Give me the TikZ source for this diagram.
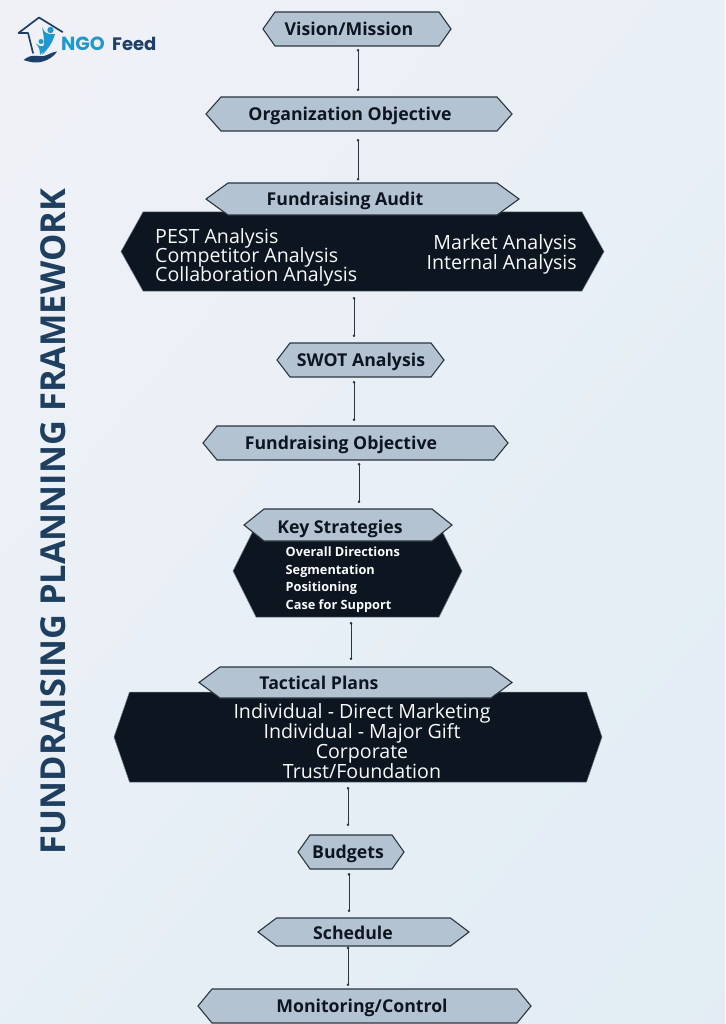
\documentclass[tikz,border=0pt]{standalone}
\usepackage{fontspec}
\setmainfont{Open Sans}
\newfontfamily\logofont{Poppins}
\usetikzlibrary{arrows.meta,calc}
\definecolor{inkdark}{HTML}{0D1521}
\definecolor{boxfill}{HTML}{B4C3D2}
\definecolor{boxedge}{HTML}{2A3540}
\definecolor{titleblue}{HTML}{1E3F5F}
\definecolor{logoteal}{HTML}{1F98CF}
\definecolor{lognavy}{HTML}{1E3F68}
\pgfdeclareverticalshading{pagewash}{100bp}{%
  rgb(0bp)=(0.875,0.918,0.953);
  rgb(40bp)=(0.898,0.933,0.961);
  rgb(68bp)=(0.933,0.945,0.969);
  rgb(100bp)=(0.965,0.953,0.973)}
\tikzset{
  x=1pt,y=-1pt,
  lightbox/.style={fill=boxfill,draw=boxedge,line width=1.1pt,line join=miter},
  darkbox/.style={fill=inkdark,draw=boxfill!60!inkdark,line width=0.5pt},
  anchorbox/.style={inner sep=0pt,outer sep=0pt,rectangle},
  headtext/.style={font=\fontsize{17.7}{20}\selectfont\bfseries,text=inkdark,anchor=center,inner sep=0pt,text height=12.6pt,text depth=0pt},
  listtext/.style={font=\fontsize{19.6}{19}\selectfont,text=white!92!boxfill,inner sep=0pt,text height=14pt,text depth=0pt},
  smalltext/.style={font=\fontsize{12.75}{12}\selectfont\bfseries,text=white!95!boxfill,anchor=west,inner sep=0pt,text height=9pt,text depth=0pt},
  link/.style={draw=boxedge,line width=0.7pt,{Circle[length=2.6pt]}-{Circle[length=2.6pt]}},
}
% A hexagon between xl and xr, yt and yb, with a named box over its extent
\newcommand{\hexa}[7]{%
  \draw[#2] (#3,{(#5+#6)/2}) -- (#3+#7,#5) -- (#4-#7,#5) -- (#4,{(#5+#6)/2})
    -- (#4-#7,#6) -- (#3+#7,#6) -- cycle;
  \node[anchorbox,minimum width=#4pt-#3pt,minimum height=#6pt-#5pt]
    (#1) at ({(#3+#4)/2},{(#5+#6)/2}) {};
}
% Vertical link leaving one box and reaching the next, at a fixed x
\newcommand{\linkbox}[5]{%
  \draw[link] (#3,0 |- #1.south) ++(0,#4) -- ($(#3,0 |- #2.north)+(0,-#5)$);
}
\begin{document}
\begin{tikzpicture}
\useasboundingbox (0,0) rectangle (725,1024);
% Page background
\begin{scope}
\clip (0,0) rectangle (725,1024);
\shade[shading=pagewash,shading angle=50] (-160,-160) rectangle (885,1184);
\end{scope}

% Logo mark
\begin{scope}
  \draw[lognavy,line width=1.7pt,line join=round,line cap=round]
    (33,53) -- (28,33) -- (18.5,33) -- (39,17.5) -- (62.5,32);
  \fill[lognavy] (23.5,60) .. controls (32,53) and (38,57) .. (44,56)
    .. controls (48,55) and (52,52) .. (57,51.5)
    .. controls (53,58) and (44,62.5) .. (36,62.5)
    .. controls (31,62.5) and (27,61) .. (23.5,60) -- cycle;
  \fill[logoteal] (50.5,30) circle (3.2);
  \fill[logoteal] (41,41.5) circle (2.5);
  \fill[logoteal] (42,27) .. controls (44,33) and (48,35) .. (55,34)
    .. controls (53,42) and (48,49) .. (42,55)
    .. controls (44,46) and (45,40) .. (42,27) -- cycle;
  \fill[logoteal] (36,43.5) .. controls (38,46) and (41,47) .. (45,45.5)
    .. controls (45,49) and (43,52) .. (40,55)
    .. controls (40,50) and (39,47) .. (36,43.5) -- cycle;
\end{scope}
\node[anchor=base west,inner sep=0pt,text=logoteal,font=\logofont\fontsize{19}{20}\selectfont\bfseries] (logongo) at (61,51) {NGO};
\node[anchor=base west,inner sep=0pt,text=lognavy,font=\logofont\fontsize{18}{20}\selectfont\bfseries] (logofeed) at (112,51) {Feed};

% Side title
\node[rotate=90,inner sep=0pt,text=titleblue,font=\fontsize{34.4}{36}\selectfont\bfseries] (sidetitle) at (53,521.5) {FUNDRAISING PLANNING FRAMEWORK};

% Dark panels sit under their headers
\hexa{auditpanel}{darkbox}{121}{604}{212}{291}{22}
\hexa{keypanel}{darkbox}{233}{462}{525}{617}{23}
\hexa{tacticalpanel}{darkbox}{114}{602}{692}{782}{15.5}

% Header boxes
\hexa{vision}{lightbox}{263}{451}{12}{46}{12}
\hexa{orgobj}{lightbox}{206}{512}{97}{131}{15}
\hexa{audit}{lightbox}{206}{519}{183}{215}{22}
\hexa{swot}{lightbox}{277}{444}{343}{377}{13}
\hexa{fundobj}{lightbox}{203}{508}{426}{460}{14}
\hexa{keystrat}{lightbox}{244}{452}{509}{541}{20}
\hexa{tactical}{lightbox}{199}{512}{667}{698}{21}
\hexa{budgets}{lightbox}{298}{404}{835}{869}{12}
\hexa{schedule}{lightbox}{258}{469}{918}{946}{18.5}
\hexa{monitor}{lightbox}{198}{531}{989}{1023}{14}

% Header labels
\node[headtext] (tvision) at (349,29) {Vision/Mission};
\node[headtext] (torgobj) at (350,114) {Organization Objective};
\node[headtext] (taudit) at (345,199) {Fundraising Audit};
\node[headtext] (tswot) at (361,360) {SWOT Analysis};
\node[headtext] (tfundobj) at (341,443) {Fundraising Objective};
\node[headtext] (tkeystrat) at (340,527) {Key Strategies};
\node[headtext] (ttactical) at (319,683) {Tactical Plans};
\node[headtext] (tbudgets) at (348,852) {Budgets};
\node[headtext] (tschedule) at (353,933) {Schedule};
\node[headtext] (tmonitor) at (362,1006) {Monitoring/Control};

% Panel contents
\node[listtext,anchor=west] (pest) at (155,236.5) {PEST Analysis};
\node[listtext,anchor=west] (comp) at (155,255.5) {Competitor Analysis};
\node[listtext,anchor=west] (coll) at (155,274.5) {Collaboration Analysis};
\node[listtext,anchor=east] (market) at (577,242) {Market Analysis};
\node[listtext,anchor=east] (internal) at (577,262) {Internal Analysis};

\node[smalltext] (overall) at (285.5,551.5) {Overall Directions};
\node[smalltext] (segment) at (285.5,569.5) {Segmentation};
\node[smalltext] (position) at (285.5,587) {Positioning};
\node[smalltext] (casesup) at (285.5,604.5) {Case for Support};

\node[listtext,anchor=center] (direct) at (362,711.5) {Individual - Direct Marketing};
\node[listtext,anchor=center] (major) at (362,731.5) {Individual - Major Gift};
\node[listtext,anchor=center] (corporate) at (362,751) {Corporate};
\node[listtext,anchor=center] (trust) at (362,771) {Trust/Foundation};

% Links between stages
\linkbox{vision}{orgobj}{358}{3}{6}
\linkbox{orgobj}{audit}{358}{8}{2.5}
\linkbox{auditpanel}{swot}{354}{6}{6}
\linkbox{swot}{fundobj}{354}{4}{5}
\linkbox{fundobj}{keystrat}{359}{3}{6}
\linkbox{keypanel}{tactical}{351}{5}{7}
\linkbox{tacticalpanel}{budgets}{348}{5}{9}
\linkbox{budgets}{schedule}{349}{4}{6}
\linkbox{schedule}{monitor}{348}{0.5}{3}
\end{tikzpicture}
\end{document}
